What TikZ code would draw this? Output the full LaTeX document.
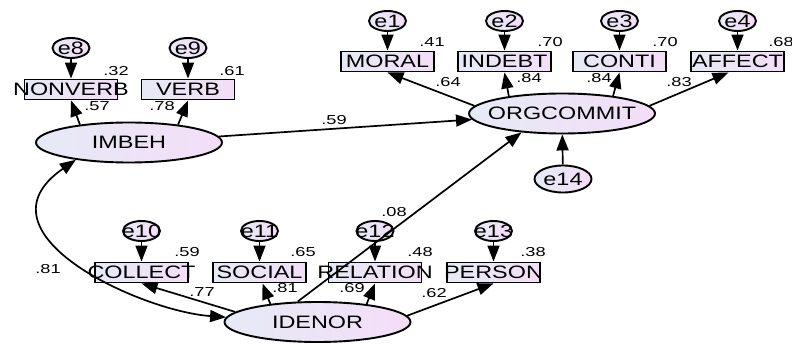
\documentclass[tikz,border=0pt]{standalone}
\usepackage{fontspec}
\setmainfont{Liberation Sans}
\usepackage{graphicx}
\usetikzlibrary{shapes.geometric,arrows.meta}

\definecolor{lftcol}{RGB}{230,234,246}
\definecolor{rgtcol}{RGB}{243,222,247}

\newcommand{\wtxt}[1]{\makebox[0pt]{\scalebox{1.3}[1]{#1}}}
\newcommand{\ntxt}[1]{\scalebox{1.4}[1]{#1}}

\tikzset{
  shp/.style={draw, line width=1.9pt, inner sep=0pt, left color=lftcol, right color=rgtcol, font=\fontsize{18}{18}\selectfont},
  obsbox/.style={shp, rectangle, minimum width=93pt, minimum height=20pt},
  latent/.style={shp, ellipse, minimum width=186pt, minimum height=40pt},
  errc/.style={shp, ellipse, minimum width=37pt, minimum height=20pt},
  coef/.style={inner sep=0pt, font=\fontsize{13}{13}\selectfont},
  arr/.style={line width=1.7pt, -{Triangle[length=16pt,width=12pt]}},
}

\begin{document}
\begin{tikzpicture}[x=1pt,y=1pt]
  \useasboundingbox (0,0) rectangle (792,343);

  % latent variables
  \node[latent] (imbeh) at (129,200.5) {\wtxt{IMBEH}};
  \node[latent] (org) at (562,229.5) {\wtxt{ORGCOMMIT}};
  \node[latent] (idenor) at (317.5,21) {\wtxt{IDENOR}};

  % observed variables
  \node[obsbox] (nonverb) at (71,253.5) {\wtxt{NONVERB}};
  \node[obsbox] (verb) at (188,253.5) {\wtxt{VERB}};
  \node[obsbox] (moral) at (387.5,281.5) {\wtxt{MORAL}};
  \node[obsbox] (indebt) at (504.5,281.5) {\wtxt{INDEBT}};
  \node[obsbox] (conti) at (619.5,281.5) {\wtxt{CONTI}};
  \node[obsbox] (affect) at (737.5,281.5) {\wtxt{AFFECT}};
  \node[obsbox] (collect) at (141.5,70.5) {\wtxt{COLLECT}};
  \node[obsbox] (social) at (259.5,70.5) {\wtxt{SOCIAL}};
  \node[obsbox] (relation) at (375,70.5) {\wtxt{RELATION}};
  \node[obsbox] (person) at (493.5,70.5) {\wtxt{PERSON}};

  % error terms
  \foreach \n/\x/\y in {8/71/295, 9/188/295, 1/387.5/322, 2/504.5/322,
                        3/619.5/322, 4/737.5/322, 10/141.5/112, 11/259.5/112,
                        12/375/112, 13/493.5/112}
    \node[errc] (e\n) at (\x,\y) {\wtxt{e\n}};
  \node[errc, minimum width=57pt, minimum height=27pt] (e14) at (563,164) {\wtxt{e14}};

  \foreach \e/\b in {e8/nonverb, e9/verb, e1/moral, e2/indebt, e3/conti,
                     e4/affect, e10/collect, e11/social, e12/relation, e13/person}
    \draw[arr] (\e) -- (\b);
  \draw[arr] (e14) -- (org);

  % loadings
  \draw[arr] (imbeh.160) -- (nonverb.south);
  \draw[arr] (imbeh.20) -- (verb.south);
  \draw[arr] (org.175) -- (moral.south);
  \draw[arr] (org.162) -- (indebt.south);
  \draw[arr] (org.19) -- (conti.south);
  \draw[arr] (org.5) -- ([xshift=-9pt]affect.south);
  \draw[arr] (idenor.173) -- (collect.south);
  \draw[arr] (idenor.159) -- ([xshift=3pt]social.south);
  \draw[arr] (idenor.20) -- (relation.south);
  \draw[arr] (idenor.4) -- (person.south);

  % structural paths
  \draw[arr] (imbeh) -- (org);
  \draw[arr] (idenor.134) -- (org.205);
  \draw[line width=1.7pt, {Triangle[length=16pt,width=12pt]}-{Triangle[length=16pt,width=12pt]}]
    (imbeh.198) .. controls (-30,110) and (140,32) .. (idenor.177);

  % estimates
  \foreach \nm/\x/\y/\t in {rnonverb/116/272/.32, rverb/232/272/.61,
                            rmoral/432/301/.41, rindebt/550/301/.70,
                            rconti/665/301/.70, raffect/781/301/.68,
                            rcollect/187/91/.59, rsocial/303/91/.65,
                            rrelation/420/91/.48, rperson/533/91/.38,
                            lnonverb/97/237/.57, lverb/162/237/.78,
                            lmoral/448/261/.64, lindebt/529/265/.84,
                            lconti/599/265/.84, laffect/679/261/.83,
                            lcollect/202/51/.77, lsocial/285/55/.81,
                            lrelation/352/55/.69, lperson/434/50/.62,
                            bimbeh/334/223/.59, bidenor/394/131/.08,
                            ccov/48/74/.81}
    \node[coef] (\nm) at (\x,\y) {\ntxt{\t}};
\end{tikzpicture}
\end{document}
